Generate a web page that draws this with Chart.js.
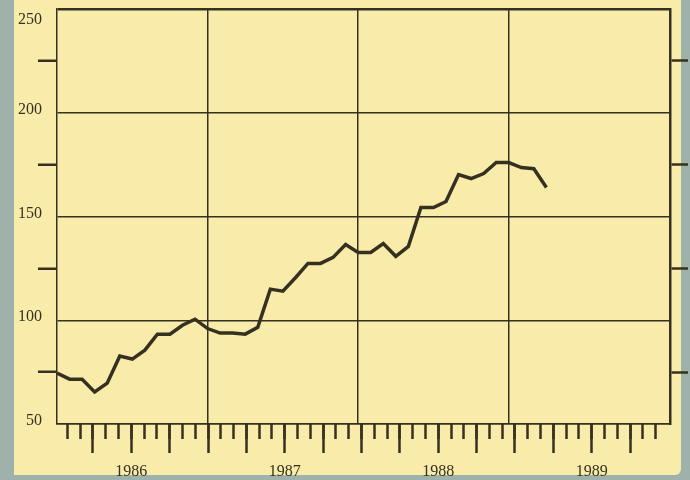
<!DOCTYPE html>
<html lang="en">
<head>
    <meta charset="UTF-8">
    <title>Index 1986-1989</title>
    <script src="https://cdn.jsdelivr.net/npm/chart.js"></script>
    <style>
        body { margin: 0; width: 690px; height: 480px; background: #9fb1ab; position: relative; overflow: hidden; }
        .paper { position: absolute; left: 14px; top: 0; width: 667px; height: 475px; background: #f9ecab; border-bottom-right-radius: 6px; }
        #chart { position: absolute; left: 0; top: 0; }
    </style>
</head>
<body>
    <div class="paper"></div>
    <canvas id="chart" width="690" height="480"></canvas>

    <script>
        // monthly values, Jan 1986 onward
        const values = [
            74.5, 71.6, 71.6, 65.4, 69.7, 82.7, 81.3, 85.6, 93.3, 93.3, 97.6, 100.5,
            96, 93.8, 93.8, 93.3, 96.6, 115, 114, 120.5, 127.4, 127.4, 130.3, 136.5,
            132.7, 132.7, 137, 130.8, 135.6, 154.3, 154.3, 157.2, 170.2, 168.3, 170.7, 176,
            176, 173.6, 173, 164
        ];
        const yearGridMonths = [12, 24, 36];
        const yearLabels = ['1986', '1987', '1988', '1989'];
        const yearLabelMonths = [6, 18, 30, 42];
        const monthTicks = Array.from({ length: 47 }, (_, i) => i + 1);
        const quarterTicks = monthTicks.filter(m => m % 3 === 0);
        const sideTicks = [75, 125, 175, 225];

        const ink = '#35301f';
        const serif = { family: "'Liberation Serif', 'DejaVu Serif', serif", size: 16 };

        const points = values.map((v, i) => ({ x: i, y: v }));

        new Chart(document.getElementById('chart'), {
            type: 'line',
            data: {
                datasets: [{
                    data: points,
                    xAxisID: 'x',
                    yAxisID: 'y',
                    borderColor: ink,
                    borderWidth: 3.5,
                    pointRadius: 0,
                    tension: 0,
                    borderJoinStyle: 'miter'
                }]
            },
            options: {
                responsive: false,
                animation: false,
                devicePixelRatio: 1,
                layout: { padding: { top: 9, left: 0, right: 0, bottom: 0 } },
                plugins: { legend: { display: false }, tooltip: { enabled: false } },
                scales: {
                    x: {
                        type: 'linear',
                        position: 'bottom',
                        min: 0,
                        max: 48.85,
                        afterBuildTicks: s => { s.ticks = yearGridMonths.map(v => ({ value: v })); },
                        afterFit: s => { s.height = 56; },
                        ticks: { display: false },
                        grid: { color: ink, lineWidth: 1.5, drawTicks: false },
                        border: { display: true, color: ink, width: 1.5 }
                    },
                    xm: {
                        type: 'linear',
                        position: { y: 50 },
                        min: 0.19,
                        max: 48.12,
                        afterBuildTicks: s => { s.ticks = monthTicks.map(v => ({ value: v })); },
                        ticks: { display: false },
                        grid: { drawOnChartArea: false, tickLength: 15, tickWidth: 2.5, tickColor: ink },
                        border: { display: false }
                    },
                    xq: {
                        type: 'linear',
                        position: { y: 50 },
                        min: 0.19,
                        max: 48.12,
                        afterBuildTicks: s => { s.ticks = quarterTicks.map(v => ({ value: v })); },
                        ticks: {
                            autoSkip: false,
                            maxRotation: 0,
                            padding: 9,
                            color: ink,
                            font: serif,
                            callback: v => {
                                const k = yearLabelMonths.indexOf(v);
                                return k >= 0 ? yearLabels[k] : '';
                            }
                        },
                        grid: { drawOnChartArea: false, tickLength: 29, tickWidth: 2.5, tickColor: ink },
                        border: { display: false }
                    },
                    y: {
                        position: 'left',
                        min: 50,
                        max: 250,
                        afterFit: s => { s.width = 57; s.paddingTop = 0; s.paddingBottom = 0; },
                        ticks: {
                            stepSize: 25,
                            autoSkip: false,
                            padding: -4,
                            labelOffset: -3,
                            color: ink,
                            font: { ...serif, lineHeight: 1.75 },
                            // top label sits lower on the scan, pushed down with an empty first line
                            callback: v => (v === 250 ? ['', '250'] : v % 50 === 0 ? String(v) : '')
                        },
                        grid: {
                            color: c => (c.tick && c.tick.value % 50 === 0 ? ink : 'transparent'),
                            lineWidth: c => (c.tick && c.tick.value === 250 ? 2.5 : 1.5),
                            tickLength: 19,
                            tickWidth: 2.5,
                            tickColor: c => (c.tick && c.tick.value % 50 === 0 ? 'transparent' : ink)
                        },
                        border: { display: true, color: ink, width: 1.5 }
                    },
                    y2: {
                        position: 'right',
                        min: 50,
                        max: 250,
                        afterBuildTicks: s => { s.ticks = sideTicks.map(v => ({ value: v })); },
                        afterFit: s => { s.width = 20; },
                        ticks: { display: false },
                        grid: { drawOnChartArea: false, tickLength: 18, tickWidth: 2.5, tickColor: ink },
                        border: { display: true, color: ink, width: 2.5 }
                    }
                }
            }
        });
    </script>
</body>
</html>
